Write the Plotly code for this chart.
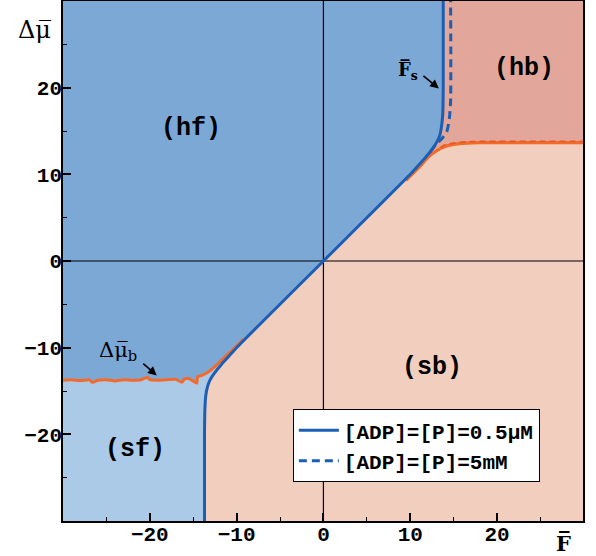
import plotly.graph_objects as go

# ---------------- data ----------------
X_RANGE = [-30, 29.9]
Y_RANGE = [-30, 30]

# blue solid boundary ([ADP]=[P]=0.5uM)
blue_F = [-13.7, -13.7, -13.65, -13.55, -13.35, -13.1, -12.6, -11.8, -10.9, -10, 0,
          10, 10.9, 11.8, 12.6, 13.1, 13.4, 13.6, 13.75, 13.8, 13.8]
blue_mu = [-30, -20, -17, -15.5, -14.5, -13.8, -13, -12, -11, -10, 0,
           10, 11, 12, 13, 13.8, 14.5, 15.5, 17, 20, 30]

# blue dashed boundary ([ADP]=[P]=5mM), upper branch
dash_F = [12.3, 13.0, 13.7, 14.2, 14.5, 14.65, 14.65]
dash_mu = [12.6, 13.5, 14.2, 14.9, 16.4, 18.5, 30]

# orange boundary (Delta mu_b), right branch
orr_F = [9.5, 11, 12.2, 13, 14, 15, 16.5, 18, 20, 25, 29.9]
orr_mu = [9.3, 10.8, 12.1, 12.7, 13.2, 13.45, 13.6, 13.65, 13.65, 13.65, 13.65]
# orange dashed (5mM) overlay on the right branch
ord_F = [13.5, 14, 15, 16.5, 18, 20, 25, 29.9]
ord_mu = [13.1, 13.4, 13.6, 13.75, 13.8, 13.8, 13.82, 13.82]

# orange boundary, left branch (noisy)
orl_F = [-30, -29, -28, -27, -26.6, -26, -25, -24, -23, -22, -21, -20.3, -20, -19,
         -18, -17, -16.3, -16, -15.5, -14.6, -14.5, -14, -13.5, -13, -12.5, -12, -11, -10, -9.2]
orl_mu = [-13.75, -13.7, -13.8, -13.7, -14.0, -13.75, -13.7, -13.85, -13.7, -13.75, -13.7, -13.4,
          -13.7, -13.75, -13.7, -13.65, -14.0, -13.6, -13.55, -14.1, -13.35, -13.2, -12.95, -12.6,
          -12.2, -11.7, -10.75, -9.8, -9.0]

legend_names = ["[ADP]=[P]=0.5μM", "[ADP]=[P]=5mM"]
tick_vals = [-20, -10, 0, 10, 20]
minor_vals = [-25, -15, -5, 5, 15, 25]

# region labels
reg_text = ["(hf)", "(hb)", "(sf)", "(sb)"]
reg_x = [-15.2, 23.1, -21.7, 12.5]
reg_y = [15.3, 22.2, -21.8, -12.3]

# ---------------- styling ----------------
C_HF = "#7CA8D6"
C_SF = "#AACAE8"
C_SB = "#F2CEBE"
C_HB = "#E2A79A"
C_BLUE = "#1C5EB4"
C_ORANGE = "#F36A2A"
MONO = "Liberation Mono"

fig = go.Figure()

# sf region (below left orange branch)
fig.add_trace(go.Scatter(
    x=orl_F + [orl_F[-1], X_RANGE[0]],
    y=orl_mu + [Y_RANGE[0], Y_RANGE[0]],
    fill="toself", fillcolor=C_SF, mode="none", showlegend=False, hoverinfo="skip"))

# sb region (right of blue boundary)
fig.add_trace(go.Scatter(
    x=blue_F + [X_RANGE[1], X_RANGE[1]],
    y=blue_mu + [Y_RANGE[1], Y_RANGE[0]],
    fill="toself", fillcolor=C_SB, mode="none", showlegend=False, hoverinfo="skip"))

# hb region (above right orange branch, right of blue boundary)
hb_x = [f for f in orr_F if f >= 12.2]
hb_y = [m for f, m in zip(orr_F, orr_mu) if f >= 12.2]
top_blue = [(f, m) for f, m in zip(blue_F, blue_mu) if m >= 12][::-1]
fig.add_trace(go.Scatter(
    x=hb_x + [X_RANGE[1]] + [p[0] for p in top_blue],
    y=hb_y + [Y_RANGE[1]] + [p[1] for p in top_blue],
    fill="toself", fillcolor=C_HB, mode="none", showlegend=False, hoverinfo="skip"))

# zero lines
fig.add_trace(go.Scatter(x=[0, 0], y=Y_RANGE, mode="lines",
                         line=dict(color="black", width=1.2), showlegend=False, hoverinfo="skip"))
fig.add_trace(go.Scatter(x=X_RANGE, y=[0, 0], mode="lines",
                         line=dict(color="black", width=1.2), showlegend=False, hoverinfo="skip"))

# orange curves
fig.add_trace(go.Scatter(x=orl_F, y=orl_mu, mode="lines",
                         line=dict(color=C_ORANGE, width=3, shape="spline", smoothing=0.4),
                         showlegend=False, hoverinfo="skip"))
fig.add_trace(go.Scatter(x=orr_F, y=orr_mu, mode="lines",
                         line=dict(color=C_ORANGE, width=3.2, shape="spline", smoothing=0.6),
                         showlegend=False, hoverinfo="skip"))
fig.add_trace(go.Scatter(x=ord_F, y=ord_mu, mode="lines",
                         line=dict(color="#E85A1E", width=1.6, dash="6px,4px", shape="spline"),
                         showlegend=False, hoverinfo="skip"))

# blue curves
fig.add_trace(go.Scatter(x=blue_F, y=blue_mu, mode="lines", name=legend_names[0],
                         line=dict(color=C_BLUE, width=3, shape="spline", smoothing=0.6)))
fig.add_trace(go.Scatter(x=dash_F, y=dash_mu, mode="lines", name=legend_names[1],
                         line=dict(color=C_BLUE, width=3, dash="8px,5px", shape="spline", smoothing=0.6)))

# annotations
annots = []
for t, x, y in zip(reg_text, reg_x, reg_y):
    annots.append(dict(x=x, y=y, xref="x", yref="y", text=t, showarrow=False,
                       font=dict(family=MONO, size=25, color="black", weight="bold")))

annots.append(dict(x=9.7, y=21.9, xref="x", yref="y", text="F\u0305<sub>s</sub>", showarrow=False,
                   font=dict(family="DejaVu Serif", size=18, color="black", weight="bold")))
annots.append(dict(x=13.3, y=19.9, xref="x", yref="y", ax=-17, ay=-14, text="",
                   showarrow=True, arrowhead=2, arrowsize=1.1, arrowwidth=1.6, arrowcolor="black"))
annots.append(dict(x=-23.7, y=-10.4, xref="x", yref="y", text="\u0394\u03bc\u0305<sub>b</sub>",
                   showarrow=False, font=dict(family="DejaVu Serif", size=21, color="black")))
annots.append(dict(x=-19.2, y=-13.2, xref="x", yref="y", ax=-15, ay=-13, text="",
                   showarrow=True, arrowhead=2, arrowsize=1.1, arrowwidth=1.6, arrowcolor="black"))
# axis titles
annots.append(dict(x=-0.09, y=0.975, xref="paper", yref="paper", xanchor="left", yanchor="top",
                   text="\u0394\u03bc\u0305", showarrow=False,
                   font=dict(family="DejaVu Serif", size=24, color="black")))
annots.append(dict(x=0.944, y=-0.015, xref="paper", yref="paper", xanchor="left", yanchor="top",
                   text="F\u0305", showarrow=False,
                   font=dict(family="DejaVu Serif", size=21, color="black", weight="bold")))

axis_common = dict(
    showgrid=False, zeroline=False, showline=True, mirror=True,
    linecolor="black", linewidth=1.5,
    ticks="inside", ticklen=8, tickwidth=1.5, tickcolor="black",
    tickvals=tick_vals,
    minor=dict(tickvals=minor_vals, ticks="inside", ticklen=4, tickwidth=1.2, tickcolor="black"),
    tickfont=dict(family=MONO, size=21, color="black", weight="bold"),
)

fig.update_layout(
    width=596, height=556,
    margin=dict(l=63, r=13, t=1, b=35, autoexpand=False),
    paper_bgcolor="white", plot_bgcolor=C_HF,
    xaxis=dict(range=X_RANGE, ticklabelstandoff=-7, **axis_common),
    yaxis=dict(range=Y_RANGE, ticklabelstandoff=-5, **axis_common),
    showlegend=True,
    legend=dict(x=0.442, y=0.215, xanchor="left", yanchor="top",
                bgcolor="white", bordercolor="black", borderwidth=1,
                font=dict(family=MONO, size=21, color="black", weight="bold"),
                tracegroupgap=0, itemwidth=40),
    annotations=annots,
)

fig.write_html("out.html", config={"displayModeBar": False},
               post_script="document.body.style.margin='0';document.body.style.overflow='hidden';")
